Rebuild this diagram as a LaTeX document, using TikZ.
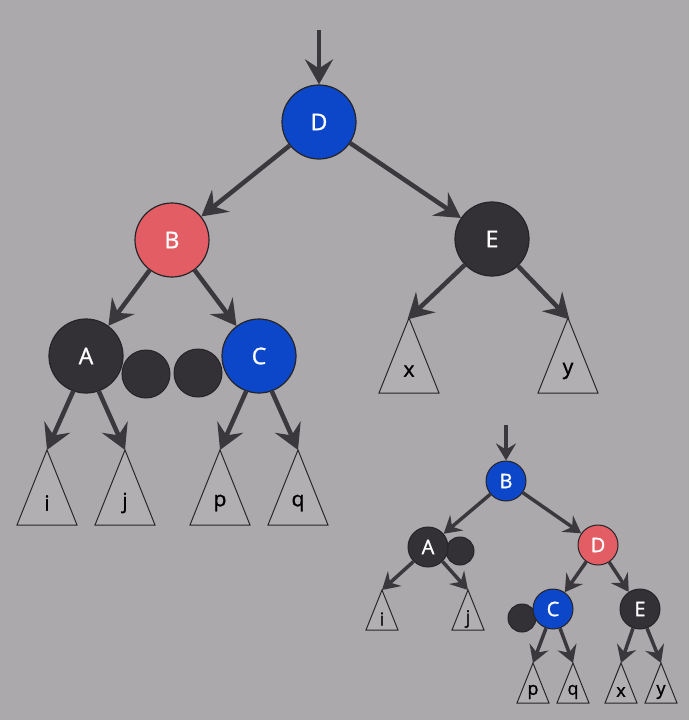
\documentclass[tikz,border=0pt]{standalone}
\usepackage{fontspec}
\setmainfont{Open Sans}
\newfontfamily\labfont{Open Sans}[FakeBold=1.2]
\usetikzlibrary{arrows.meta}
\definecolor{bg}{HTML}{ACA9AC}
\definecolor{tri}{HTML}{B2AFB2}
\definecolor{rbblue}{HTML}{0B47C8}
\definecolor{rbred}{HTML}{E35D64}
\definecolor{rbdark}{HTML}{343136}
\definecolor{edgec}{HTML}{3A383C}
\definecolor{outl}{HTML}{262428}
\tikzset{
  bignode/.style={circle, draw=outl, line width=1.2pt, minimum size=74pt, inner sep=0pt, text=white, font=\labfont\fontsize{23}{25}\selectfont},
  smallnode/.style={circle, draw=outl, line width=1pt, minimum size=40pt, inner sep=0pt, text=white, font=\labfont\fontsize{20}{22}\selectfont},
  blk/.style={fill=rbdark},
  bl/.style={fill=rbblue},
  rd/.style={fill=rbred},
  dot/.style={circle, draw=outl, line width=1pt, fill=rbdark, inner sep=0pt},
  bigedge/.style={draw=edgec, line width=4.5pt, -{Stealth[length=25pt,width=28pt,inset=9pt]}},
  smalledge/.style={draw=edgec, line width=3.5pt, -{Stealth[length=17pt,width=20pt,inset=6pt]}},
  triline/.style={draw=outl, line width=1pt, fill=tri},
  bigtri/.style={font=\labfont\fontsize{21}{23}\selectfont, text=black},
  smalltri/.style={font=\labfont\fontsize{18}{20}\selectfont, text=black},
}
\begin{document}
\begin{tikzpicture}[x=1pt,y=-1pt]
\useasboundingbox[fill=bg] (0,0) rectangle (689,720);
% ---------- big tree ----------
\foreach \n/\x/\y in {bi/47/450, bj/125/450, bp/220/450, bq/298/450, bx/409/318, by/568/318}{
  \coordinate (\n) at (\x,\y);
  \draw[triline] (\n) -- ++(-30,75) -- ++(60,0) -- cycle;
}
\node[bigtri] (lbi) at (47,503) {i};
\node[bigtri] (lbj) at (125,503) {j};
\node[bigtri] (lbp) at (220,503) {p};
\node[bigtri] (lbq) at (298,503) {q};
\node[bigtri] (lbx) at (409,371) {x};
\node[bigtri] (lby) at (568,371) {y};
\node[dot, minimum size=48pt] (bd1) at (146,374) {};
\node[dot, minimum size=48pt] (bd2) at (198,373) {};
\node[bignode, bl] (bD) at (319,122) {D};
\node[bignode, rd] (bB) at (172,240) {B};
\node[bignode, blk] (bE) at (492,239) {E};
\node[bignode, blk] (bA) at (86,356) {A};
\node[bignode, bl] (bC) at (259,356) {C};
\coordinate (btop) at (319,30);
\draw[bigedge] (btop) -- (bD);
\draw[bigedge] (bD) -- (bB);
\draw[bigedge] (bD) -- (bE);
\draw[bigedge] (bB) -- (bA);
\draw[bigedge] (bB) -- (bC);
\draw[bigedge, shorten >=-2pt] (bE) -- (bx);
\draw[bigedge, shorten >=-2pt] (bE) -- (by);
\draw[bigedge] (bA.250) -- (bi);
\draw[bigedge] (bA.290) -- (bj);
\draw[bigedge] (bC.250) -- (bp);
\draw[bigedge] (bC.290) -- (bq);
% ---------- small tree ----------
\foreach \n/\x/\y in {si/382/590, sj/468/590, sp/533/663, sq/573/663, sx/621/663, sy/661/663}{
  \coordinate (\n) at (\x,\y);
  \draw[triline] (\n) -- ++(-16,40) -- ++(32,0) -- cycle;
}
\node[smalltri] (lsi) at (382,619) {i};
\node[smalltri] (lsj) at (468,619) {j};
\node[smalltri] (lsp) at (533,692) {p};
\node[smalltri] (lsq) at (573,692) {q};
\node[smalltri] (lsx) at (621,692) {x};
\node[smalltri] (lsy) at (661,692) {y};
\node[dot, minimum size=28pt] (sd1) at (460,551) {};
\node[dot, minimum size=28pt] (sd2) at (522,618) {};
\node[smallnode, bl] (sB) at (506,481) {B};
\node[smallnode, blk] (sA) at (428,547) {A};
\node[smallnode, rd] (sD) at (598,545) {D};
\node[smallnode, bl] (sC) at (553,609) {C};
\node[smallnode, blk] (sE) at (640,609) {E};
\coordinate (stop) at (506,425);
\draw[smalledge] (stop) -- (sB);
\draw[smalledge] (sB) -- (sA);
\draw[smalledge] (sB) -- (sD);
\draw[smalledge] (sD) -- (sC);
\draw[smalledge] (sD) -- (sE);
\draw[smalledge] (sA.225) -- (si);
\draw[smalledge] (sA.315) -- (sj);
\draw[smalledge] (sC.250) -- (sp);
\draw[smalledge] (sC.290) -- (sq);
\draw[smalledge] (sE.250) -- (sx);
\draw[smalledge] (sE.290) -- (sy);
\end{tikzpicture}
\end{document}
